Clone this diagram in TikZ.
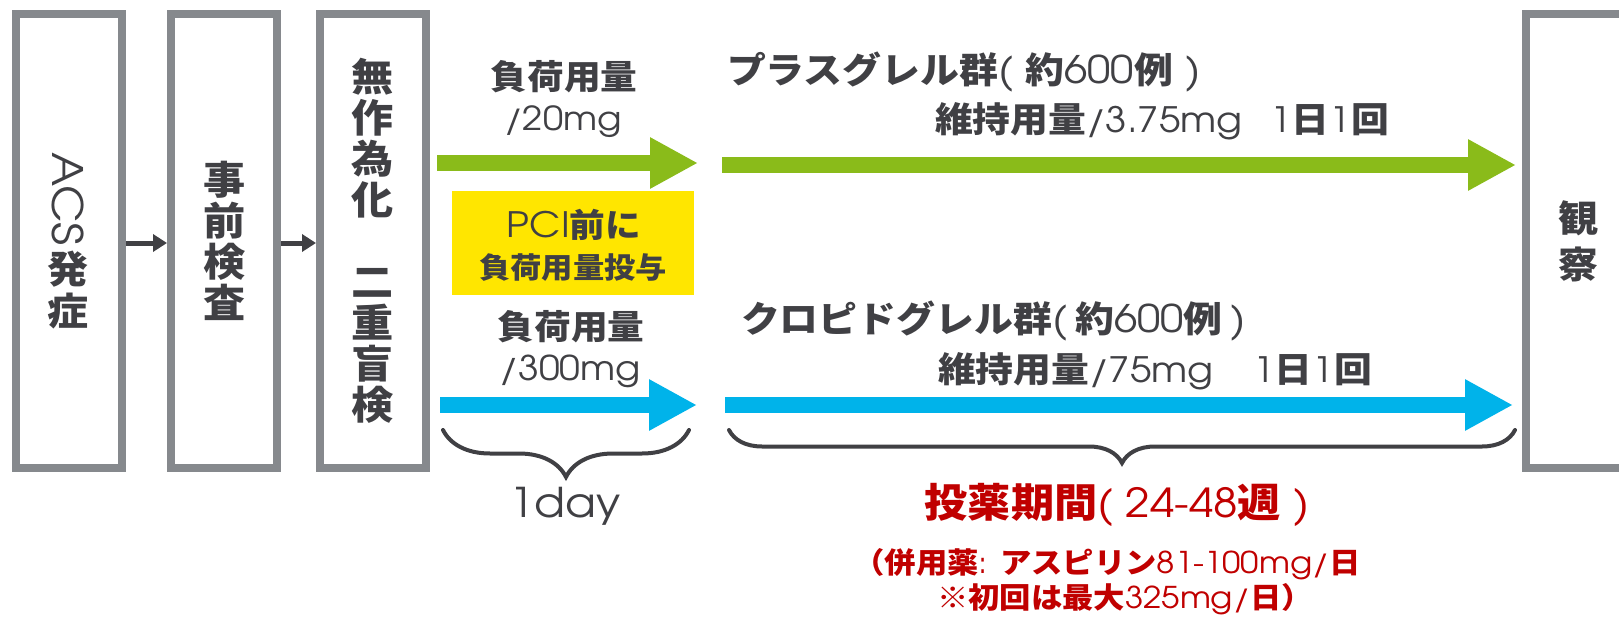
\documentclass[tikz,border=0pt]{standalone}
\usepackage{fontspec}
\setmainfont{texgyreadventor-regular.otf}[FakeStretch=1.1]
\newfontfamily\jp{Noto Sans CJK JP}[FakeStretch=1.08]
\usetikzlibrary{arrows.meta,decorations.pathreplacing}
\definecolor{boxgray}{RGB}{134,137,141}
\definecolor{ink}{RGB}{64,64,68}
\definecolor{grn}{RGB}{138,187,26}
\definecolor{blu}{RGB}{0,179,234}
\definecolor{ylw}{RGB}{255,230,0}
\definecolor{rd}{RGB}{192,0,0}
\newcommand\J[1]{{\jp\bfseries #1}}
\newcommand\fs[1]{\fontsize{#1}{#1}\selectfont}
\newcommand\La[2]{{\fontsize{#1}{#1}\selectfont #2}}
\begin{document}
\begin{tikzpicture}[x=1pt,y=-1pt,
  stage/.style={draw=boxgray, line width=8pt, minimum width=106pt, minimum height=454pt, inner sep=0pt, fill=white},
  txt/.style={text=ink, inner sep=0pt, outer sep=0pt},
  vtxt/.style={txt, align=center},
  darrow/.style={draw=ink, line width=5pt, -{Triangle[length=14pt,width=17pt]}},
  garrow/.style={draw=grn, line width=16pt, -{Triangle[length=48pt,width=48pt]}},
  barrow/.style={draw=blu, line width=16pt, -{Triangle[length=48pt,width=48pt]}},
  brc/.style={draw=ink, line width=4pt, line cap=round, decorate, decoration={brace, mirror, amplitude=#1}},
]
\path[use as bounding box, clip] (0,0) rectangle (1619,618);
\fill[white] (0,0) rectangle (1619,618);

% stage boxes
\node[stage] (acs) at (69,241) {};
\node[stage] (pre) at (224,241) {};
\node[stage] (rand) at (373,241) {};
\node[stage] (obs) at (1579,241) {};

\draw[darrow] ([yshift=-2pt]acs.east) -- ([yshift=-2pt]pre.west);
\draw[darrow] ([yshift=-2pt]pre.east) -- ([yshift=-2pt]rand.west);

% vertical texts
\node[txt, rotate=-90, font=\fs{42}] (acstxt) at (68,199) {ACS};
\node[vtxt, font=\jp\bfseries\fontsize{38}{42}\selectfont] (onset) at (68,290) {発\\症};
\node[vtxt, font=\jp\bfseries\fontsize{39}{41}\selectfont] (pretxt) at (225,241) {事\\前\\検\\査};
\node[vtxt, font=\jp\bfseries\fontsize{39}{41}\selectfont] (randtxt) at (373,241) {無\\作\\為\\化\\[41pt]二\\重\\盲\\検};
\node[vtxt, font=\jp\bfseries\fontsize{37}{46}\selectfont] (obstxt) at (1578,241) {観\\察};

% yellow box
\node[fill=ylw, minimum width=242pt, minimum height=104pt, inner sep=0pt] (pcibox) at (573,243) {};
\node[txt, anchor=base, font=\fs{33}] (pci1) at (574,237) {\La{35}{PCI}\J{前に}};
\node[txt, anchor=base, font=\fs{29}] (pci2) at (573,278) {\J{負荷用量投与}};

% loading doses
\node[txt, anchor=base, font=\fs{34}] (load1) at (564,89) {\J{負荷用量}};
\node[txt, anchor=base, font=\fs{33}] (dose1) at (563,130) {/20mg};
\node[txt, anchor=base, font=\fs{34}] (load2) at (571,339) {\J{負荷用量}};
\node[txt, anchor=base, font=\fs{34}] (dose2) at (570,380) {/300mg};

% arrows
\coordinate (g1s) at (437,163); \coordinate (g1e) at (698,163);
\coordinate (g2s) at (722,165); \coordinate (g2e) at (1516,165);
\coordinate (b1s) at (440,405); \coordinate (b1e) at (697,405);
\coordinate (b2s) at (725,405); \coordinate (b2e) at (1513,405);
\draw[garrow] (g1s) -- (g1e);
\draw[garrow] (g2s) -- (g2e);
\draw[barrow] (b1s) -- (b1e);
\draw[barrow] (b2s) -- (b2e);

% group labels
\node[txt, anchor=base west, font=\fs{36}] (title1) at (727,83) {\J{プラスグレル群}\La{38}{(\hspace{12pt}}\J{約}\La{38}{600}\J{例}\La{38}{\hspace{12pt})}};
\node[txt, anchor=base west, font=\fs{35}] (maint1) at (935,132) {\J{維持用量}/3.75mg\hspace{28pt}1\J{日}1\J{回}};
\node[txt, anchor=base west, font=\fs{36}] (title2) at (741,332) {\J{クロピドグレル群}\La{38}{(\hspace{8pt}}\J{約}\La{38}{600}\J{例}\La{38}{\hspace{8pt})}};
\node[txt, anchor=base west, font=\fs{35}] (maint2) at (938,382) {\J{維持用量}/75mg\hspace{40pt}1\J{日}1\J{回}};

% braces
\coordinate (br1s) at (443,430); \coordinate (br1e) at (689,430);
\coordinate (br2s) at (729,430); \coordinate (br2e) at (1515,430);
\draw[brc=47pt] (br1s) -- (br1e);
\draw[brc=33pt] (br2s) -- (br2e);

\node[txt, anchor=base, font=\fs{41}] (oneday) at (565,517) {1day};

% period
\node[txt, text=rd, anchor=base, font=\fs{40}] (period) at (1117,517) {\J{投薬期間}\La{40}{(\hspace{12pt}24-48}\J{週}\La{40}{\hspace{12pt})}};
\node[txt, text=rd, anchor=base, font=\fs{29}] (conc1) at (1107,573) {\J{（併用薬}\La{30}{: }\J{アスピリン}\La{30}{81-100mg/}\J{日}};
\node[txt, text=rd, anchor=base, font=\fs{29}] (conc2) at (1125,608) {\J{※初回は最大}\La{30}{325mg/}\J{日）}};
\end{tikzpicture}
\end{document}
